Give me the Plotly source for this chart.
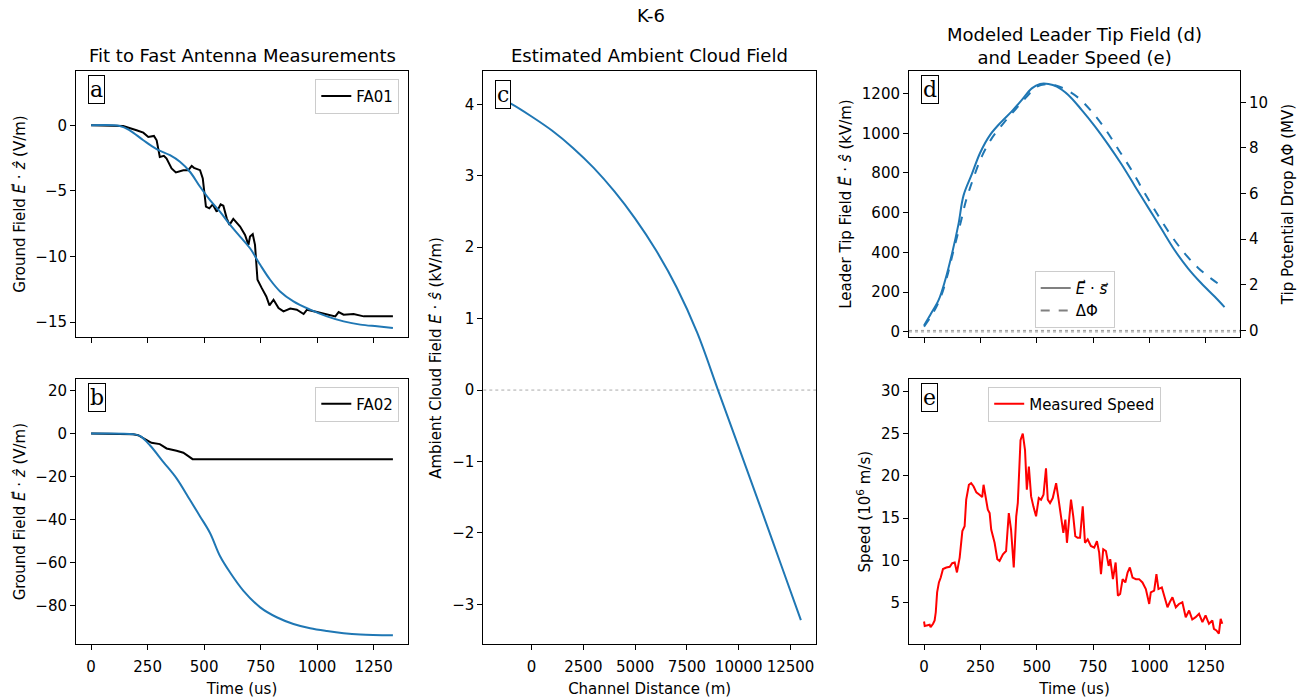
import plotly.graph_objects as go

# ---------------- data ----------------
# (a) fast antenna FA01 measurement and model fit
fa01_t = [0, 142, 201, 231, 253, 278, 290, 304, 322, 334, 356, 375, 408, 430, 445, 455, 482, 494,
          508, 523, 538, 556, 573, 585, 600, 612, 629, 659, 681, 696, 703, 715, 725, 736, 755, 775,
          789, 807, 829, 851, 881, 910, 940, 955, 999, 1058, 1080, 1095, 1117, 1161, 1206, 1265, 1335]
fa01_e = [0, -0.05, -0.38, -0.56, -0.89, -0.81, -1.14, -2.41, -2.33, -2.53, -3.29, -3.59, -3.42,
          -3.42, -3.09, -3.24, -3.42, -4.05, -6.20, -6.33, -6.03, -6.58, -6.03, -6.13, -7.09, -7.59,
          -7.13, -7.72, -8.35, -9.11, -8.48, -8.30, -9.11, -11.77, -12.41, -13.04, -13.72, -13.29,
          -13.92, -14.18, -13.97, -14.05, -14.38, -14.05, -14.23, -14.43, -14.56, -14.23, -14.43,
          -14.38, -14.56, -14.56, -14.56]
fit01_t = [0, 127, 171, 231, 290, 349, 393, 437, 482, 526, 570, 615, 659, 703, 748, 792, 836, 895,
           969, 1043, 1117, 1191, 1265, 1335]
fit01_e = [0, -0.05, -0.38, -1.14, -1.82, -2.28, -2.78, -3.54, -4.68, -5.70, -6.58, -7.59, -8.48,
           -9.37, -10.63, -11.77, -12.66, -13.42, -14.05, -14.56, -14.94, -15.19, -15.32, -15.44]

# (b) fast antenna FA02 measurement and model fit
fa02_t = [0, 186, 208, 231, 267, 304, 334, 378, 408, 430, 449, 1335]
fa02_e = [0, -0.3, -0.77, -2.3, -4.3, -4.9, -6.9, -8.0, -8.9, -10.5, -11.9, -11.9]
fit02_t = [0, 186, 216, 260, 319, 378, 437, 482, 526, 570, 615, 674, 748, 821, 895, 969, 1043,
           1117, 1191, 1335]
fit02_e = [0, -0.3, -1.1, -5.4, -13.1, -20.8, -30.8, -38.5, -46.2, -56.9, -64.6, -73.1, -80.8,
           -85.4, -88.5, -90.5, -91.8, -92.8, -93.4, -93.8]

# (c) ambient cloud field along the channel
chan_dist = [-1600, -1000, 0, 1000, 2000, 3000, 4000, 5000, 6000, 7000, 8000, 9000, 10000,
             11000, 12000, 13000]
cloud_field = [4.09, 4.01, 3.83, 3.63, 3.39, 3.11, 2.78, 2.40, 1.96, 1.44, 0.80, 0.00, -0.80,
               -1.60, -2.41, -3.22]

# (d) leader tip field (kV/m) and tip potential drop (MV)
tip_t = [0, 28, 65, 94, 124, 153, 175, 212, 249, 294, 345, 389, 434, 478, 515, 552, 589, 640, 699,
         758, 817, 876, 935, 994, 1053, 1112, 1172, 1230, 1289, 1333]
tip_field = [32, 87, 161, 261, 394, 544, 686, 794, 902, 993, 1060, 1110, 1168, 1226, 1248, 1248,
             1235, 1193, 1118, 1035, 943, 844, 735, 627, 519, 411, 319, 245, 178, 125]
dphi_t = [0, 35, 72, 102, 131, 161, 186, 220, 257, 301, 353, 404, 456, 500, 544, 581, 625, 684,
          743, 802, 861, 921, 980, 1038, 1097, 1156, 1215, 1274, 1330]
dphi = [0.17, 0.68, 1.41, 2.35, 3.51, 4.67, 5.68, 6.70, 7.64, 8.43, 9.09, 9.67, 10.25, 10.68,
        10.80, 10.75, 10.58, 10.20, 9.60, 8.85, 7.95, 7.02, 6.00, 5.05, 4.15, 3.38, 2.75, 2.27, 1.88]

# (e) measured leader speed (1e6 m/s)
speed_t = [0, 3, 25, 29, 40, 47, 52, 58, 66, 74, 84, 99, 114, 125, 136, 146, 158, 170, 180, 187,
           199, 209, 220, 232, 246, 258, 264, 276, 283, 291, 298, 313, 325, 335, 350, 364, 376,
           386, 398, 409, 416, 428, 438, 448, 456, 465, 475, 485, 497, 509, 519, 530, 541, 549,
           559, 571, 586, 597, 608, 618, 627, 634, 645, 652, 662, 671, 681, 692, 704, 714, 726,
           740, 755, 767, 777, 785, 795, 807, 819, 826, 838, 850, 860, 870, 881, 893, 903, 913,
           925, 940, 954, 969, 984, 999, 1006, 1021, 1031, 1040, 1055, 1065, 1080, 1090, 1102,
           1117, 1131, 1146, 1161, 1176, 1190, 1205, 1220, 1235, 1249, 1264, 1279, 1286, 1297,
           1308, 1316, 1323]
speed = [2.81, 2.27, 2.42, 2.15, 2.54, 2.93, 3.9, 6.25, 7.42, 8.0, 9.0, 9.18, 9.26, 9.69, 9.77,
         8.6, 10.35, 13.48, 14.06, 17.19, 18.95, 19.14, 18.75, 18.05, 17.77, 17.5, 18.95, 17.19,
         16.0, 15.6, 13.67, 12.1, 10.16, 9.96, 10.74, 11.13, 15.6, 13.67, 9.18, 15.23, 16.8, 24.2,
         25.0, 23.05, 18.36, 21.1, 17.58, 16.4, 15.23, 17.38, 17.19, 17.77, 20.9, 17.19, 16.8,
         17.38, 19.14, 17.19, 14.84, 13.28, 14.84, 12.1, 15.23, 17.19, 15.23, 12.89, 12.7, 12.7,
         16.4, 12.1, 12.5, 11.72, 11.52, 12.3, 10.94, 8.4, 11.33, 11.13, 9.37, 10.16, 7.81, 9.77,
         5.86, 6.05, 7.81, 7.42, 8.59, 9.18, 8.0, 7.81, 7.81, 7.42, 6.64, 4.88, 6.25, 6.45, 8.4,
         6.64, 6.84, 5.86, 4.49, 5.08, 5.66, 4.49, 4.88, 5.08, 3.32, 4.1, 3.05, 3.32, 3.71, 2.73,
         3.52, 2.54, 2.93, 1.95, 1.76, 1.37, 3.13, 2.54]

time_ticks = [0, 250, 500, 750, 1000, 1250]
dist_ticks = [0, 2500, 5000, 7500, 10000, 12500]

# ---------------- styling ----------------
W, H = 1301, 700
FONT = "DejaVu Sans"
BLUE = "#1f77b4"
TICK = dict(size=15, family=FONT, color="black")


def px_x(a, b):
    return [a / W, b / W]


def px_y(top, bottom):
    return [1 - bottom / H, 1 - top / H]


def axis(domain, rng, tickvals, anchor, showlabels=True, title=None, side=None,
         overlaying=None, is_x=False):
    d = dict(range=rng, tickvals=tickvals, anchor=anchor, tickformat="d",
             showgrid=False, zeroline=False, showline=True, linecolor="black", linewidth=1,
             mirror=True, ticks="outside", ticklen=5, tickwidth=1, tickcolor="black",
             tickfont=TICK, showticklabels=showlabels)
    if domain is not None:
        d["domain"] = domain
    if is_x:
        d["ticklabelstandoff"] = 4
    if title is not None:
        d["title"] = dict(text=title, font=dict(size=15, family=FONT, color="black"),
                          standoff=8 if is_x else 6)
    if side is not None:
        d["side"] = side
    if overlaying is not None:
        d["overlaying"] = overlaying
        d["showline"] = False
        d["mirror"] = False
    return d


fig = go.Figure()

# panel a
fig.add_trace(go.Scatter(x=fa01_t, y=fa01_e, mode="lines", name="FA01",
                         line=dict(color="black", width=2), xaxis="x", yaxis="y", legend="legend"))
fig.add_trace(go.Scatter(x=fit01_t, y=fit01_e, mode="lines", showlegend=False,
                         line=dict(color=BLUE, width=2, shape="spline"), xaxis="x", yaxis="y"))
# panel b
fig.add_trace(go.Scatter(x=fa02_t, y=fa02_e, mode="lines", name="FA02",
                         line=dict(color="black", width=2), xaxis="x2", yaxis="y2", legend="legend2"))
fig.add_trace(go.Scatter(x=fit02_t, y=fit02_e, mode="lines", showlegend=False,
                         line=dict(color=BLUE, width=2, shape="spline"), xaxis="x2", yaxis="y2"))
# panel c
fig.add_trace(go.Scatter(x=[-2330, 13730], y=[0, 0], mode="lines", showlegend=False,
                         line=dict(color="#aaaaaa", width=1, dash="dot"), xaxis="x3", yaxis="y3"))
fig.add_trace(go.Scatter(x=chan_dist, y=cloud_field, mode="lines", showlegend=False,
                         line=dict(color=BLUE, width=2, shape="spline"), xaxis="x3", yaxis="y3"))
# panel d
fig.add_trace(go.Scatter(x=[-66.75, 1401.75], y=[0, 0], mode="lines", showlegend=False,
                         line=dict(color="#999999", width=1, dash="dot"), xaxis="x4", yaxis="y4"))
fig.add_trace(go.Scatter(x=[-66.75, 1401.75], y=[0, 0], mode="lines", showlegend=False,
                         line=dict(color="#999999", width=1, dash="dot"), xaxis="x4", yaxis="y5"))
fig.add_trace(go.Scatter(x=tip_t, y=tip_field, mode="lines", showlegend=False,
                         line=dict(color=BLUE, width=2, shape="spline"), xaxis="x4", yaxis="y4"))
fig.add_trace(go.Scatter(x=dphi_t, y=dphi, mode="lines", showlegend=False,
                         line=dict(color=BLUE, width=2, dash="dash", shape="spline"),
                         xaxis="x4", yaxis="y5"))
fig.add_trace(go.Scatter(x=[None], y=[None], mode="lines", name="<i>E⃗</i> · <i>s⃗</i>",
                         line=dict(color="gray", width=2), xaxis="x4", yaxis="y4", legend="legend3"))
fig.add_trace(go.Scatter(x=[None], y=[None], mode="lines", name="ΔΦ",
                         line=dict(color="gray", width=2, dash="dash"), xaxis="x4", yaxis="y4",
                         legend="legend3"))
# panel e
fig.add_trace(go.Scatter(x=speed_t, y=speed, mode="lines", name="Measured Speed",
                         line=dict(color="red", width=2), xaxis="x5", yaxis="y6", legend="legend4"))

XA = px_x(76, 408)
XC = px_x(483.3, 816)
XD = px_x(909, 1240)
YTOP = px_y(72, 339)
YBOT = px_y(381.7, 649)
YC = px_y(72, 649)
TR = [-66.75, 1401.75]

gfield = "Ground Field <i>E⃗</i> · <i>ẑ</i> (V/m)"

legend_style = dict(bgcolor="rgba(255,255,255,0.8)", bordercolor="#cccccc", borderwidth=1,
                    font=dict(size=15, family=FONT, color="black"), xref="paper", yref="paper")

fig.update_layout(
    width=W, height=H, autosize=False,
    margin=dict(l=0, r=0, t=0, b=0),
    paper_bgcolor="white", plot_bgcolor="white",
    font=dict(family=FONT, color="black"),
    xaxis=axis(XA, TR, time_ticks, "y", showlabels=False, is_x=True),
    yaxis=axis(YTOP, [-16.1, 4.1], [0, -5, -10, -15], "x", title=gfield),
    xaxis2=axis(XA, TR, time_ticks, "y2", title="Time (us)", is_x=True),
    yaxis2=axis(YBOT, [-98, 25.4], [20, 0, -20, -40, -60, -80], "x2", title=gfield),
    xaxis3=axis(XC, [-2330, 13730], dist_ticks, "y3", title="Channel Distance (m)", is_x=True),
    yaxis3=axis(YC, [-3.56, 4.46], [-3, -2, -1, 0, 1, 2, 3, 4], "x3",
                title="Ambient Cloud Field <i>E⃗</i> · <i>ŝ</i> (kV/m)"),
    xaxis4=axis(XD, TR, time_ticks, "y4", showlabels=False, is_x=True),
    yaxis4=axis(YTOP, [-23.5, 1311], [0, 200, 400, 600, 800, 1000, 1200], "x4",
                title="Leader Tip Field <i>E⃗</i> · <i>ŝ</i> (kV/m)"),
    yaxis5=axis(None, [-0.27, 11.35], [0, 2, 4, 6, 8, 10], "x4",
                title="Tip Potential Drop ΔΦ (MV)", side="right", overlaying="y4"),
    xaxis5=axis(XD, TR, time_ticks, "y6", title="Time (us)", is_x=True),
    yaxis6=axis(YBOT, [0.11, 31.44], [5, 10, 15, 20, 25, 30], "x5",
                title="Speed (10<sup>6</sup> m/s)"),
    legend=dict(x=399.3 / W, y=1 - 79.3 / H, xanchor="right", yanchor="top", **legend_style),
    legend2=dict(x=399.3 / W, y=1 - 389.3 / H, xanchor="right", yanchor="top", **legend_style),
    legend3=dict(x=1074.7 / W, y=1 - 330 / H, xanchor="center", yanchor="bottom", **legend_style),
    legend4=dict(x=1074.7 / W, y=1 - 389.3 / H, xanchor="center", yanchor="top", **legend_style),
)
fig.layout.yaxis5.title.standoff = 15

annotations = []
# suptitle and panel titles
title_font = dict(size=18, family=FONT, color="black")
common = dict(xref="paper", yref="paper", showarrow=False, font=title_font,
              xanchor="center", yanchor="middle")
annotations.append(dict(text="K-6", x=0.5, y=1 - 16 / H, **common))
annotations.append(dict(text="Fit to Fast Antenna Measurements", x=sum(XA) / 2, y=1 - 56 / H,
                        **common))
annotations.append(dict(text="Estimated Ambient Cloud Field", x=sum(XC) / 2, y=1 - 56 / H,
                        **common))
annotations.append(dict(text="Modeled Leader Tip Field (d)<br>and Leader Speed (e)",
                        x=sum(XD) / 2, y=1 - 46 / H, **common))
# panel letters
for letter, xr, yr in [("a", "x", "y"), ("b", "x2", "y2"), ("c", "x3", "y3"),
                       ("d", "x4", "y4"), ("e", "x5", "y6")]:
    annotations.append(dict(text=letter, x=0.036, y=0.985, xref=xr + " domain",
                            yref=yr + " domain", xanchor="left", yanchor="top", showarrow=False,
                            font=dict(size=22, family="DejaVu Serif", color="black"),
                            bgcolor="white", bordercolor="black", borderwidth=1, borderpad=1))
fig.update_layout(annotations=annotations)

fig.write_html("out.html")
